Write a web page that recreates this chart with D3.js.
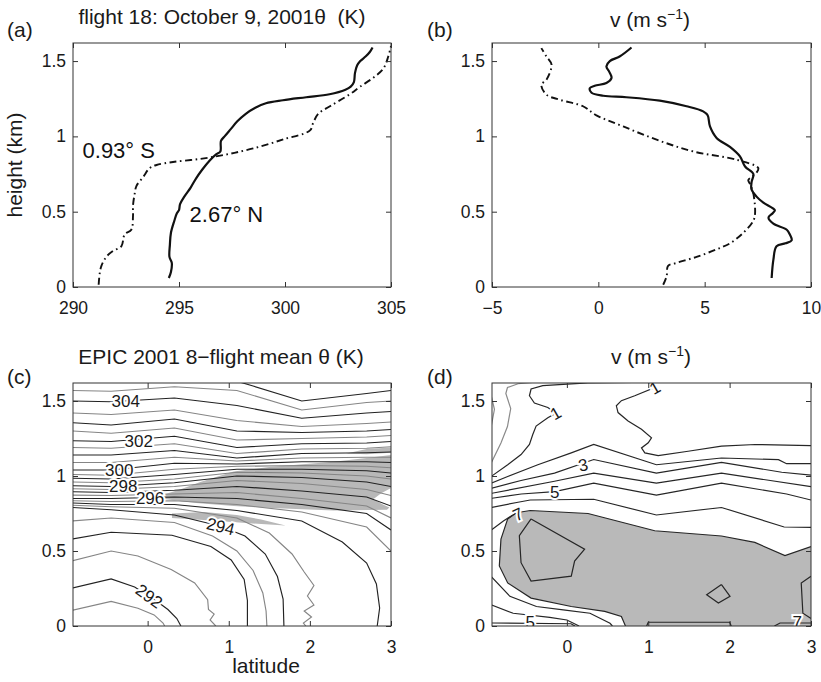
<!DOCTYPE html>
<html lang="en">
<head>
<meta charset="UTF-8">
<title>EPIC 2001 flight 18 and 8-flight mean</title>
<script src="https://cdn.jsdelivr.net/npm/d3@7"></script>
<style>
  body { margin: 0; background: #fff; }
  svg { display: block; font-family: "Liberation Sans", Arial, sans-serif; }
  .axis .tick text { font-size: 17.5px; fill: #1a1a1a; }
  .axis .tick line { stroke: #333; }
  .frame { fill: none; stroke: #333; stroke-width: 1; }
  .title { font-size: 21px; fill: #1a1a1a; white-space: pre; }
  .clabel { font-size: 17px; fill: #1a1a1a; paint-order: stroke; stroke: #fff; stroke-width: 4px; }
</style>
</head>
<body>
<div id="chart"></div>
<script>
// ---- (a) potential temperature profiles, flight 18 ----
const zNorth = [0.06,0.10,0.16,0.20,0.28,0.36,0.44,0.49,0.51,0.55,0.60,0.66,0.72,0.78,0.84,0.88,0.90,0.97,1.00,1.05,1.10,1.15,1.19,1.22,1.24,1.26,1.28,1.31,1.33,1.36,1.42,1.47,1.50,1.53,1.56,1.59]
const thetaNorth = [294.52,294.62,294.66,294.55,294.57,294.62,294.78,294.90,295.00,295.05,295.25,295.55,295.80,296.10,296.45,296.75,296.95,296.98,297.15,297.45,297.75,298.15,298.60,299.10,299.90,301.00,302.10,302.85,303.10,303.25,303.30,303.40,303.55,303.80,304.00,304.13]
const zSouth = [0.015,0.09,0.14,0.20,0.24,0.27,0.35,0.38,0.47,0.54,0.62,0.67,0.73,0.79,0.81,0.83,0.85,0.88,0.92,0.98,1.04,1.09,1.15,1.20,1.28,1.33,1.39,1.45,1.53,1.60]
const thetaSouth = [291.21,291.26,291.34,291.57,291.89,292.28,292.44,292.75,292.83,292.83,292.91,292.99,293.31,293.62,293.94,294.72,295.98,297.24,298.50,299.92,301.18,301.33,301.57,302.12,303.06,303.54,304.17,304.64,304.87,305.00]

// ---- (b) meridional wind profiles, flight 18 ----
const zVNorth = [0.06,0.18,0.27,0.29,0.31,0.35,0.38,0.42,0.46,0.49,0.51,0.56,0.60,0.65,0.70,0.75,0.80,0.867,0.93,0.99,1.066,1.14,1.166,1.20,1.237,1.26,1.27,1.29,1.32,1.336,1.354,1.387,1.43,1.465,1.50,1.53,1.59]
const vNorth = [8.15,8.23,8.38,8.8,9.09,9.0,8.86,8.23,8.0,8.2,8.3,7.76,7.44,7.2,7.21,7.29,6.9,6.66,6.19,5.56,5.25,5.14,4.93,4.15,2.89,1.32,0.23,-0.32,-0.40,-0.17,0.38,0.62,0.51,0.38,0.54,1.0,1.56]
const zVSouth = [0.015,0.07,0.14,0.16,0.20,0.25,0.29,0.36,0.44,0.49,0.62,0.68,0.71,0.73,0.76,0.79,0.845,0.90,0.978,1.066,1.14,1.20,1.243,1.277,1.343,1.376,1.476,1.53,1.586]
const vSouth = [3.05,3.21,3.28,3.68,4.62,5.56,6.19,6.82,7.29,7.37,7.29,7.15,7.05,7.2,7.44,7.52,6.5,4.46,2.74,1.17,-0.09,-0.72,-1.81,-2.44,-2.68,-2.44,-2.2,-2.44,-2.68]

// ---- (c) mean theta: upper contours given as heights (km) at the flight latitudes ----
const latCols = [-0.93, -0.45, 0.33, 1.1, 1.9, 2.7, 3.0]
const thetaUpper = [
  { level: 295.5, z: [0.835,0.83,0.835,0.81,0.76,0.66,0.50] },
  { level: 296,   z: [0.85,0.85,0.86,0.85,0.81,0.75,0.64] },
  { level: 296.5, z: [0.873,0.87,0.88,0.89,0.85,0.80,0.72] },
  { level: 297,   z: [0.895,0.89,0.905,0.93,0.90,0.86,0.80] },
  { level: 297.5, z: [0.915,0.91,0.93,0.97,0.95,0.91,0.87] },
  { level: 298,   z: [0.935,0.93,0.955,1.0,0.99,0.96,0.93] },
  { level: 298.5, z: [0.96,0.955,0.98,1.025,1.02,1.0,0.98] },
  { level: 299,   z: [0.985,0.98,1.01,1.045,1.045,1.035,1.02] },
  { level: 299.5, z: [1.01,1.005,1.045,1.065,1.07,1.065,1.055] },
  { level: 300,   z: [1.04,1.04,1.085,1.08,1.095,1.095,1.09] },
  { level: 300.5, z: [1.09,1.09,1.125,1.10,1.12,1.125,1.125] },
  { level: 301,   z: [1.14,1.14,1.17,1.12,1.15,1.155,1.16] },
  { level: 301.5, z: [1.19,1.185,1.215,1.15,1.18,1.185,1.195] },
  { level: 302,   z: [1.235,1.23,1.265,1.19,1.215,1.22,1.23] },
  { level: 302.5, z: [1.30,1.285,1.32,1.24,1.25,1.26,1.27] },
  { level: 303,   z: [1.355,1.34,1.38,1.30,1.29,1.30,1.31] },
  { level: 303.5, z: [1.42,1.41,1.44,1.37,1.33,1.35,1.36] },
  { level: 304,   z: [1.50,1.495,1.52,1.47,1.385,1.42,1.43] },
  { level: 304.5, z: [1.57,1.565,1.595,1.57,1.44,1.49,1.50] }
]
// lower contours that bend down to the surface: [latitude, height]
const thetaLower = [
  { level: 305,   pts: [[0.2,1.632],[1.1,1.632],[1.3,1.60],[1.9,1.50],[2.7,1.55],[3.0,1.57]] },
  { level: 295,   pts: [[-0.93,0.82],[-0.45,0.81],[0.33,0.81],[1.1,0.77],[1.9,0.70],[2.4,0.56],[2.7,0.42],[2.82,0.28],[2.86,0.12],[2.83,0]] },
  { level: 294.5, pts: [[-0.93,0.805],[-0.45,0.795],[0.33,0.785],[1.1,0.72],[1.5,0.62],[1.78,0.48],[1.93,0.36],[2.05,0.27],[1.97,0.2],[2.05,0.14],[1.93,0.1],[2.02,0.06],[1.92,0.02],[1.95,0]] },
  { level: 294,   pts: [[-0.93,0.79],[-0.45,0.775],[0.33,0.74],[0.9,0.665],[1.2,0.60],[1.45,0.48],[1.6,0.33],[1.67,0.18],[1.68,0]] },
  { level: 293.5, pts: [[-0.93,0.70],[-0.45,0.72],[0.33,0.69],[0.8,0.60],[1.1,0.50],[1.3,0.37],[1.42,0.22],[1.46,0.1],[1.47,0]] },
  { level: 293,   pts: [[-0.93,0.58],[-0.45,0.625],[0.3,0.605],[0.78,0.53],[1.03,0.44],[1.19,0.31],[1.23,0.17],[1.23,0]] },
  { level: 292.5, pts: [[-0.93,0.435],[-0.45,0.50],[-0.12,0.467],[0.29,0.377],[0.58,0.287],[0.74,0.175],[0.75,0.11],[0.82,0.08],[0.77,0.04],[0.84,0]] },
  { level: 292,   pts: [[-0.93,0.253],[-0.45,0.314],[-0.16,0.26],[0.1,0.17],[0.25,0.11],[0.36,0.05],[0.41,0]] },
  { level: 291.5, pts: [[-0.93,0.105],[-0.45,0.164],[-0.12,0.118],[0.08,0.074],[0.19,0.02],[0.21,0]] }
]
const thetaShade = [
  [[0.16,0.87],[0.4,0.91],[0.65,0.96],[1.06,1.03],[1.5,1.06],[2.29,1.095],[2.7,1.12],[3.0,1.14],[3.0,0.92],[2.88,0.885],[2.78,0.845],[2.9,0.81],[2.98,0.79],[2.95,0.775],[2.29,0.77],[1.6,0.785],[1.06,0.80],[0.6,0.82],[0.3,0.84],[0.16,0.85]],
  [[0.3,0.75],[0.7,0.76],[1.1,0.74],[1.4,0.71],[1.7,0.67],[1.4,0.68],[1.0,0.695],[0.6,0.71],[0.3,0.72]],
  [[2.45,1.15],[2.7,1.18],[3.0,1.19],[3.0,1.155],[2.7,1.145]]
]
const thetaLabels = [
  { text: "304", lat: -0.27, z: 1.50, angle: 0 },
  { text: "302", lat: -0.11, z: 1.235, angle: 0 },
  { text: "300", lat: -0.35, z: 1.04, angle: 0 },
  { text: "298", lat: -0.30, z: 0.935, angle: 0 },
  { text: "296", lat: 0.03, z: 0.855, angle: 0 },
  { text: "294", lat: 0.90, z: 0.665, angle: 14 },
  { text: "292", lat: 0.02, z: 0.20, angle: 36 }
]

// ---- (d) mean v contours: [latitude, height] ----
const vLines = [
  { level: 0, pts: [[-0.93,1.086],[-0.81,1.22],[-0.73,1.33],[-0.69,1.45],[-0.75,1.55],[-0.73,1.59],[-0.6,1.615],[-0.4,1.625]] },
  { level: 0, pts: [[-0.93,1.535],[-0.89,1.445],[-0.93,1.33]] },
  { level: 1, pts: [[-0.93,0.997],[-0.727,1.075],[-0.563,1.143],[-0.46,1.21],[-0.419,1.277],[-0.378,1.333],[-0.234,1.389],[-0.132,1.419],[-0.234,1.457],[-0.399,1.486],[-0.46,1.535],[-0.44,1.58],[-0.296,1.603],[0.259,1.621],[1.0,1.625],[1.08,1.59],[0.834,1.535],[0.67,1.502],[0.608,1.468],[0.629,1.423],[0.752,1.367],[0.917,1.311],[1.04,1.255],[1.0,1.221],[0.917,1.187],[0.958,1.154],[1.122,1.136],[1.49,1.165],[1.9,1.199],[2.315,1.21],[3.0,1.203]] },
  { level: 2, pts: [[-0.93,0.952],[-0.727,0.997],[-0.357,1.075],[0.054,1.154],[0.33,1.21],[1.1,1.075],[1.9,1.12],[2.6,1.109],[2.7,1.082],[3.0,1.082]] },
  { level: 3, pts: [[-0.93,0.918],[-0.563,0.97],[-0.152,1.019],[0.33,1.11],[1.1,1.019],[1.9,1.091],[2.64,1.025],[3.0,1.006]] },
  { level: 4, pts: [[-0.93,0.884],[-0.152,0.965],[0.33,1.019],[1.1,0.952],[1.9,1.019],[3.0,0.929]] },
  { level: 5, pts: [[-0.93,0.851],[-0.56,0.88],[-0.15,0.896],[0.33,0.952],[1.1,0.873],[1.9,0.952],[2.7,0.88],[3.0,0.84]] },
  { level: 6, pts: [[-0.93,0.79],[-0.6,0.825],[-0.45,0.84],[0.33,0.845],[1.1,0.74],[1.9,0.79],[2.67,0.66],[3.0,0.658]] },
  { level: 7, pts: [[-0.93,0.64],[-0.78,0.70],[-0.62,0.755],[-0.45,0.77],[0.26,0.75],[1.08,0.635],[1.9,0.60],[2.31,0.557],[2.68,0.47],[3.0,0.53]] },
  { level: 7, pts: [[-0.62,0.755],[-0.727,0.714],[-0.81,0.58],[-0.83,0.40],[-0.727,0.287],[-0.44,0.186],[0.054,0.13],[0.465,0.097],[0.67,0.063],[0.72,0]] },
  { level: 6, pts: [[-0.93,0.33],[-0.70,0.198],[-0.374,0.13],[-0.045,0.108],[0.284,0.085],[0.53,0.018],[0.56,0]] },
  { level: 5, pts: [[-0.93,0.141],[-0.66,0.085],[-0.21,0.058],[0.0,0.04],[0.15,0]] },
  { level: 5, pts: [[-0.93,0.02],[0.05,0.015],[0.1,0]] },
  { level: 8, pts: [[-0.44,0.714],[0.218,0.512],[0.095,0.433],[0.054,0.332],[-0.44,0.299],[-0.563,0.422],[-0.584,0.602],[-0.44,0.714]] },
  { level: 8, pts: [[1.9,0.276],[1.718,0.209],[1.862,0.153],[2.005,0.198],[1.9,0.276]] },
  { level: 8, pts: [[3.0,0.332],[2.88,0.287],[2.9,0.085],[3.0,0.05]] },
  { level: 8, pts: [[0.98,0],[1.0,0.025],[2.0,0.025],[2.02,0]] },
  { level: 7, pts: [[2.55,0],[2.62,0.02],[3.0,0.02]] }
]
const vShade = [[-0.62,0.755],[-0.45,0.77],[0.26,0.75],[1.08,0.635],[1.9,0.60],[2.31,0.557],[2.68,0.47],[3.0,0.53],[3.0,0],[0.72,0],[0.67,0.063],[0.465,0.097],[0.054,0.13],[-0.44,0.186],[-0.727,0.287],[-0.83,0.40],[-0.81,0.58],[-0.727,0.714]]
const vLabels = [
  { text: "1", lat: -0.14, z: 1.42, angle: -30 },
  { text: "1", lat: 1.08, z: 1.59, angle: -30 },
  { text: "3", lat: 0.2, z: 1.075, angle: -12 },
  { text: "5", lat: -0.15, z: 0.896, angle: 0 },
  { text: "7", lat: -0.6, z: 0.745, angle: -25 },
  { text: "5", lat: -0.45, z: 0.03, angle: 0 },
  { text: "7", lat: 2.83, z: 0.03, angle: 0 }
]

const heightTicks = [0, 0.5, 1, 1.5]
const zTop = 1.62

const svg = d3.select("#chart").append("svg").attr("width", 821).attr("height", 682)

function panel(id, box, xDomain, xTicks) {
  const x = d3.scaleLinear().domain(xDomain).range([box.x0, box.x1])
  const y = d3.scaleLinear().domain([0, zTop]).range([box.y1, box.y0])
  svg.append("clipPath").attr("id", "clip-" + id)
    .append("rect").attr("x", box.x0).attr("y", box.y0)
    .attr("width", box.x1 - box.x0).attr("height", box.y1 - box.y0)
  const plot = svg.append("g").attr("clip-path", `url(#clip-${id})`)
  return { x, y, plot, box, xTicks }
}

function frame(p) {
  const { x, y, box, xTicks } = p
  const fmt = d3.format("~g")
  const axes = [
    [d3.axisBottom(x).tickValues(xTicks).tickPadding(15).tickFormat(fmt), `translate(0,${box.y1})`],
    [d3.axisTop(x).tickValues(xTicks).tickFormat(""), `translate(0,${box.y0})`],
    [d3.axisLeft(y).tickValues(heightTicks).tickPadding(7).tickFormat(fmt), `translate(${box.x0},0)`],
    [d3.axisRight(y).tickValues(heightTicks).tickFormat(""), `translate(${box.x1},0)`]
  ]
  axes.forEach(([ax, tr]) => {
    svg.append("g").attr("class", "axis").attr("transform", tr)
      .call(ax.tickSizeInner(-5).tickSizeOuter(0))
      .call(g => g.select(".domain").remove())
  })
  svg.append("rect").attr("class", "frame")
    .attr("x", box.x0).attr("y", box.y0)
    .attr("width", box.x1 - box.x0).attr("height", box.y1 - box.y0)
}

function labels(p, list) {
  p.plot.selectAll(null).data(list).join("text")
    .attr("class", "clabel")
    .attr("transform", d => `translate(${p.x(d.lat)},${p.y(d.z)}) rotate(${d.angle})`)
    .attr("text-anchor", "middle").attr("dy", "0.36em")
    .text(d => d.text)
}

const pa = panel("a", { x0: 73, x1: 391, y0: 43, y1: 287 }, [290, 305], [290, 295, 300, 305])
const pb = panel("b", { x0: 492, x1: 811, y0: 43, y1: 287 }, [-5, 10], [-5, 0, 5, 10])
const pc = panel("c", { x0: 73, x1: 391, y0: 383, y1: 626 }, [-0.92, 3], [0, 1, 2, 3])
const pd = panel("d", { x0: 492, x1: 811, y0: 383, y1: 626 }, [-0.92, 3], [0, 1, 2, 3])

// (a) and (b) profiles
function profile(p, xs, zs, dashed) {
  const line = d3.line().x(d => p.x(d[0])).y(d => p.y(d[1])).curve(d3.curveCatmullRom.alpha(0.5))
  p.plot.append("path").datum(d3.zip(xs, zs))
    .attr("d", line).attr("fill", "none").attr("stroke", "#111")
    .attr("stroke-width", dashed ? 1.9 : 2.2)
    .attr("stroke-dasharray", dashed ? "7,3.5,1.6,3.5" : null)
}
profile(pa, thetaNorth, zNorth, false)
profile(pa, thetaSouth, zSouth, true)
profile(pb, vNorth, zVNorth, false)
profile(pb, vSouth, zVSouth, true)

pa.plot.append("text").attr("x", pa.x(290.45)).attr("y", pa.y(0.855))
  .attr("font-size", 22).attr("fill", "#111").text("0.93° S")
pa.plot.append("text").attr("x", pa.x(295.5)).attr("y", pa.y(0.43))
  .attr("font-size", 22).attr("fill", "#111").text("2.67° N")

// (c) contours
const area = p => d3.line().x(d => p.x(d[0])).y(d => p.y(d[1]))
pc.plot.selectAll(null).data(thetaShade).join("path")
  .attr("d", d => area(pc)(d) + "Z").attr("fill", "#b8b8b8")

const thetaAll = thetaUpper.map(d => ({ level: d.level, pts: latCols.map((lat, i) => [lat, d.z[i]]) }))
  .concat(thetaLower)
pc.plot.selectAll(null).data(thetaAll).join("path")
  .attr("d", d => area(pc)(d.pts))
  .attr("fill", "none")
  .attr("stroke", d => d.level % 1 === 0 ? "#222" : "#858585")
  .attr("stroke-width", 1.15)
labels(pc, thetaLabels)

// (d) contours
pd.plot.append("path").attr("d", area(pd)(vShade) + "Z").attr("fill", "#b9b9b9")
pd.plot.selectAll(null).data(vLines).join("path")
  .attr("d", d => area(pd)(d.pts))
  .attr("fill", "none")
  .attr("stroke", d => d.level === 0 ? "#8a8a8a" : "#262626")
  .attr("stroke-width", 1.2)
labels(pd, vLabels)

;[pa, pb, pc, pd].forEach(frame)

// panel letters and titles
const texts = [
  { t: "(a)", x: 7, y: 37, anchor: "start" },
  { t: "(b)", x: 427, y: 37, anchor: "start" },
  { t: "(c)", x: 7, y: 384, anchor: "start" },
  { t: "(d)", x: 427, y: 384, anchor: "start" },
  { t: "flight 18: October 9, 2001θ  (K)", x: 222, y: 24, anchor: "middle" },
  { t: "EPIC 2001 8−flight mean θ (K)", x: 221, y: 364, anchor: "middle" },
  { t: "latitude", x: 266, y: 673, anchor: "middle" }
]
svg.selectAll(null).data(texts).join("text")
  .attr("class", "title").attr("x", d => d.x).attr("y", d => d.y)
  .attr("text-anchor", d => d.anchor).text(d => d.t)

;[[650, 27], [651, 364]].forEach(([cx, cy]) => {
  const t = svg.append("text").attr("class", "title").attr("x", cx).attr("y", cy).attr("text-anchor", "middle")
  t.append("tspan").text("v (m s")
  t.append("tspan").attr("dy", -8).attr("font-size", 14).text("−1")
  t.append("tspan").attr("dy", 8).text(")")
})

svg.append("text").attr("class", "title")
  .attr("transform", "translate(22,165) rotate(-90)")
  .attr("text-anchor", "middle").text("height (km)")
</script>
</body>
</html>
